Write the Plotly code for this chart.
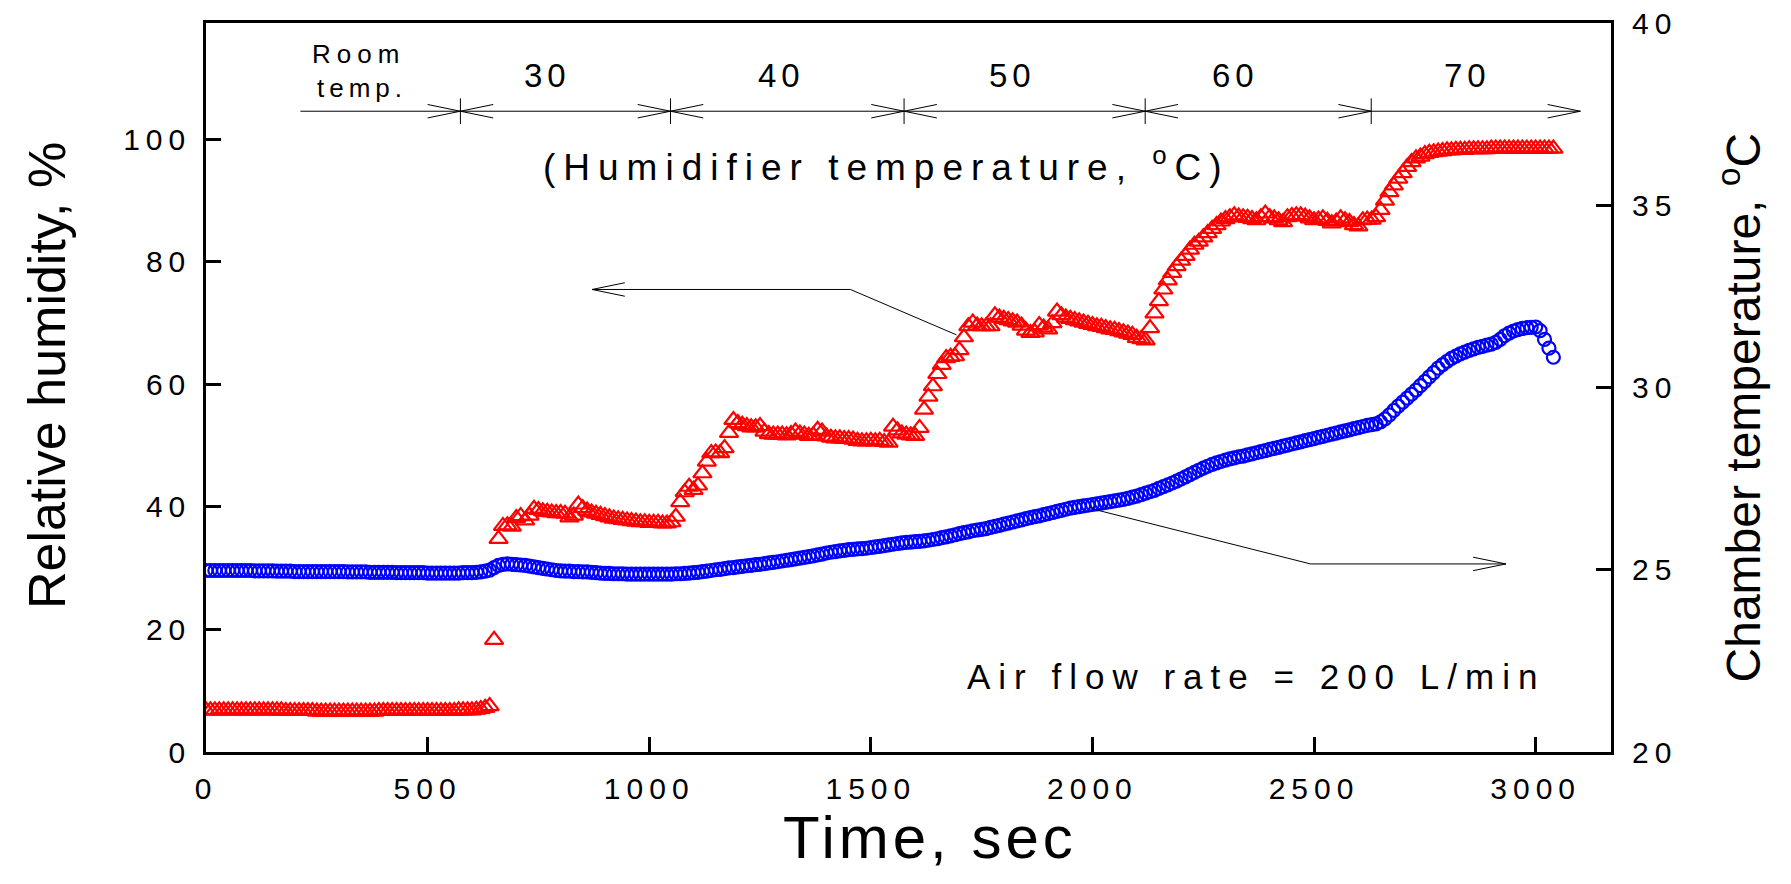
import plotly.graph_objects as go

# ---------------- data ----------------
# sampling clock of the logger (s), one reading every 10 s
time_s = list(range(0, 3050, 10))

# Relative humidity, % (red triangles, left axis)
rh_pct = [
    6.8, 6.8, 6.8, 6.8, 6.8, 6.8, 6.8, 6.8, 6.8, 6.8,
    6.8, 6.8, 6.8, 6.8, 6.8, 6.8, 6.8, 6.8, 6.7, 6.7,
    6.7, 6.7, 6.7, 6.7, 6.7, 6.6, 6.6, 6.6, 6.6, 6.6,
    6.6, 6.6, 6.6, 6.6, 6.6, 6.6, 6.6, 6.6, 6.6, 6.7,
    6.7, 6.7, 6.7, 6.7, 6.7, 6.7, 6.7, 6.7, 6.7, 6.7,
    6.7, 6.7, 6.7, 6.7, 6.7, 6.7, 6.7, 6.8, 6.8, 6.8,
    6.8, 6.9, 7.0, 7.2, 7.5, 18.3, 34.8, 36.9, 37.0, 36.8,
    38.2, 38.5, 37.8, 38.6, 39.7, 39.5, 39.3, 39.2, 39.1, 39.0,
    39.0, 38.9, 38.3, 38.6, 40.4, 39.8, 39.4, 39.1, 38.9, 38.7,
    38.5, 38.3, 38.1, 38.0, 37.9, 37.8, 37.7, 37.6, 37.5, 37.5,
    37.4, 37.4, 37.4, 37.3, 37.3, 37.5, 38.4, 40.8, 42.4, 43.3,
    42.8, 43.5, 45.5, 47.4, 48.8, 48.9, 48.8, 49.6, 52.1, 54.2,
    53.7, 53.4, 53.2, 53.0, 53.0, 53.2, 52.3, 51.9, 51.8, 51.8,
    51.8, 51.7, 51.9, 52.3, 52.0, 51.8, 51.6, 51.7, 52.6, 52.3,
    51.5, 51.3, 51.2, 51.2, 51.1, 51.1, 51.0, 50.8, 50.7, 50.7,
    50.8, 50.7, 50.8, 50.6, 50.5, 53.1, 52.5, 52.0, 51.8, 51.7,
    51.6, 52.9, 55.9, 58.0, 59.7, 61.7, 63.2, 64.3, 64.5, 64.6,
    65.6, 67.7, 69.5, 70.1, 69.6, 69.5, 69.5, 69.5, 71.3, 70.9,
    70.7, 70.5, 70.3, 70.1, 69.6, 68.8, 68.4, 68.5, 69.7, 69.3,
    69.0, 70.0, 71.9, 71.3, 70.9, 70.7, 70.5, 70.3, 70.1, 69.9,
    69.7, 69.5, 69.4, 69.2, 69.0, 68.9, 68.7, 68.5, 68.3, 68.1,
    67.6, 67.4, 67.2, 69.2, 71.6, 73.6, 75.5, 77.0, 78.2, 79.3,
    80.2, 81.0, 82.0, 82.8, 83.3, 84.0, 84.7, 85.4, 86.0, 86.6,
    87.0, 87.3, 87.6, 87.4, 87.3, 87.2, 87.0, 86.8, 87.3, 87.9,
    87.3, 87.1, 86.8, 86.5, 87.3, 87.5, 87.6, 87.6, 87.4, 87.1,
    86.8, 86.9, 87.1, 86.7, 86.3, 86.6, 87.1, 86.8, 86.5, 86.0,
    85.8, 86.8, 86.9, 86.9, 87.3, 88.5, 90.0, 91.4, 92.5, 93.6,
    94.5, 95.5, 96.3, 96.9, 97.2, 97.6, 97.8, 97.9, 98.0, 98.1,
    98.2, 98.2, 98.3, 98.3, 98.3, 98.4, 98.4, 98.4, 98.4, 98.4,
    98.5, 98.5, 98.5, 98.5, 98.5, 98.5, 98.5, 98.5, 98.5, 98.5,
    98.5, 98.5, 98.5, 98.5, 98.5,
]

# Chamber temperature, degC (blue circles, right axis)
temp_c = [
    24.98, 24.98, 24.98, 24.98, 24.98, 24.98, 24.98, 24.98, 24.98, 24.98,
    24.98, 24.97, 24.97, 24.97, 24.97, 24.97, 24.96, 24.96, 24.96, 24.96,
    24.95, 24.95, 24.95, 24.95, 24.95, 24.95, 24.95, 24.95, 24.95, 24.95,
    24.95, 24.95, 24.94, 24.94, 24.94, 24.94, 24.94, 24.93, 24.93, 24.93,
    24.93, 24.93, 24.93, 24.92, 24.92, 24.92, 24.92, 24.92, 24.92, 24.92,
    24.91, 24.91, 24.91, 24.91, 24.91, 24.91, 24.91, 24.91, 24.92, 24.92,
    24.92, 24.93, 24.94, 24.96, 24.99, 25.06, 25.12, 25.15, 25.16, 25.15,
    25.14, 25.13, 25.12, 25.10, 25.08, 25.06, 25.04, 25.02, 25.00, 24.98,
    24.97, 24.96, 24.96, 24.95, 24.95, 24.94, 24.94, 24.93, 24.92, 24.91,
    24.90, 24.90, 24.89, 24.89, 24.89, 24.88, 24.88, 24.88, 24.88, 24.88,
    24.88, 24.88, 24.88, 24.88, 24.88, 24.88, 24.89, 24.89, 24.90, 24.91,
    24.92, 24.93, 24.95, 24.96, 24.98, 25.00, 25.01, 25.03, 25.05, 25.06,
    25.08, 25.09, 25.11, 25.12, 25.14, 25.15, 25.17, 25.19, 25.20, 25.22,
    25.24, 25.26, 25.28, 25.30, 25.32, 25.34, 25.36, 25.38, 25.41, 25.43,
    25.46, 25.48, 25.50, 25.52, 25.53, 25.55, 25.56, 25.57, 25.58, 25.59,
    25.61, 25.63, 25.64, 25.66, 25.68, 25.70, 25.72, 25.74, 25.75, 25.76,
    25.77, 25.78, 25.79, 25.81, 25.83, 25.85, 25.88, 25.90, 25.93, 25.96,
    25.99, 26.02, 26.04, 26.07, 26.09, 26.11, 26.13, 26.16, 26.19, 26.22,
    26.25, 26.28, 26.31, 26.34, 26.37, 26.40, 26.43, 26.46, 26.48, 26.51,
    26.54, 26.57, 26.60, 26.63, 26.66, 26.69, 26.71, 26.73, 26.75, 26.77,
    26.79, 26.81, 26.83, 26.85, 26.87, 26.89, 26.91, 26.93, 26.96, 26.99,
    27.02, 27.06, 27.10, 27.14, 27.18, 27.23, 27.28, 27.33, 27.38, 27.43,
    27.49, 27.55, 27.61, 27.67, 27.73, 27.79, 27.84, 27.89, 27.93, 27.97,
    28.01, 28.04, 28.07, 28.10, 28.12, 28.15, 28.18, 28.21, 28.24, 28.27,
    28.30, 28.33, 28.36, 28.39, 28.42, 28.45, 28.48, 28.51, 28.54, 28.57,
    28.60, 28.63, 28.66, 28.69, 28.72, 28.75, 28.78, 28.81, 28.84, 28.87,
    28.90, 28.93, 28.96, 28.98, 29.00, 29.06, 29.14, 29.25, 29.37, 29.49,
    29.60, 29.71, 29.82, 29.93, 30.05, 30.17, 30.29, 30.41, 30.53, 30.63,
    30.72, 30.80, 30.86, 30.92, 30.97, 31.02, 31.06, 31.10, 31.13, 31.16,
    31.19, 31.24, 31.32, 31.42, 31.49, 31.55, 31.59, 31.62, 31.64, 31.65,
    31.66, 31.56, 31.32, 31.08, 30.83,
]

# axis ticks
x_ticks = [0, 500, 1000, 1500, 2000, 2500, 3000]
y_ticks = [0, 20, 40, 60, 80, 100]
y2_ticks = [20, 25, 30, 35, 40]

# humidifier-temperature phases (top bracket)
phase_bounds = [574, 1048, 1575, 2119, 2629]
phase_labels = ["30", "40", "50", "60", "70"]
phase_label_x = [770, 1299, 1820, 2323, 2846]
bracket_start, bracket_end, bracket_y = 213, 3101, 104.6

# pointer lines (x in s, y in % RH)
rh_pointer = [(1693, 68.1), (1454, 75.5), (871, 75.5)]
t_pointer = [(1999, 39.7), (2492, 30.7), (2933, 30.7)]

FONT = "Liberation Sans, Arial, Helvetica, sans-serif"


def spaced(text, px):
    return f'<span style="letter-spacing:{px}px">{text}</span>'


fig = go.Figure()
fig.add_trace(go.Scatter(
    x=time_s, y=rh_pct, mode="markers", name="Relative humidity",
    marker=dict(symbol="triangle-up-open", size=16, color="#ff0000",
                line=dict(width=2.2, color="#ff0000")),
))
fig.add_trace(go.Scatter(
    x=time_s, y=temp_c, mode="markers", name="Chamber temperature", yaxis="y2",
    marker=dict(symbol="circle-open", size=13, color="#0000ff",
                line=dict(width=2.2, color="#0000ff")),
))

# ---------- bracket & arrows as shapes ----------
AL, AH = 74, 1.1      # arrowhead length (s) / half-height (% RH)
VT = 2.1              # half-height of divider ticks
shapes = []
line_style = dict(color="black", width=1)


def seg(path):
    shapes.append(dict(type="path", path=path, xref="x", yref="y",
                       line=line_style))


def head_right(x, y):
    seg(f"M{x-AL},{y+AH} L{x},{y} L{x-AL},{y-AH}")


def head_left(x, y):
    seg(f"M{x+AL},{y+AH} L{x},{y} L{x+AL},{y-AH}")


seg(f"M{bracket_start},{bracket_y} L{bracket_end},{bracket_y}")
head_right(bracket_end, bracket_y)
for i, b in enumerate(phase_bounds):
    seg(f"M{b},{bracket_y+VT} L{b},{bracket_y-VT}")
    head_right(b, bracket_y)
    if i < len(phase_bounds) - 1:
        head_left(b, bracket_y)

seg("M" + " L".join(f"{x},{y}" for x, y in rh_pointer))
head_left(*rh_pointer[-1])
seg("M" + " L".join(f"{x},{y}" for x, y in t_pointer))
head_right(*t_pointer[-1])

# ---------- text annotations ----------
ann = []


def add_text(x, y, text, size, xref="x", yref="y", angle=0,
             xanchor="center", xshift=0):
    ann.append(dict(x=x, y=y, xref=xref, yref=yref, text=text,
                    showarrow=False, xanchor=xanchor, yanchor="middle",
                    xshift=xshift, textangle=angle,
                    font=dict(size=size, color="black", family=FONT)))


add_text(345, 113.9, spaced("Room", 6), 26)
add_text(352, 108.4, spaced("temp.", 5), 26)
for lx, lab in zip(phase_label_x, phase_labels):
    add_text(lx, 110.4, spaced(lab, 5), 33)
add_text(1536, 95.9, spaced("(Humidifier temperature, <sup>o</sup>C)", 8), 37)
add_text(2368, 12.3, spaced("Air flow rate = 200 L/min", 8), 35)
# right-axis tick labels
for v in y2_ticks:
    add_text(1.0, v, spaced(str(v), 6), 30, "paper", "y2",
             xanchor="left", xshift=19)
# axis titles
add_text(-0.113, 0.516, "Relative humidity, %", 52, "paper", "paper", -90)
add_text(1.092, 0.473, "Chamber temperature, <sup>o</sup>C", 48,
         "paper", "paper", -90)
add_text(0.5155, -0.1166, spaced("Time, sec", 4), 60, "paper", "paper")

axis_common = dict(showgrid=False, zeroline=False, showline=True,
                   linecolor="black", linewidth=2.5, ticks="inside",
                   ticklen=15, tickwidth=2.5, tickcolor="black",
                   tickfont=dict(size=30, color="black", family=FONT))

fig.update_layout(
    width=1791, height=884,
    margin=dict(l=206, r=180, t=23, b=132),
    paper_bgcolor="white", plot_bgcolor="white",
    showlegend=False,
    font=dict(family=FONT, color="black"),
    xaxis=dict(range=[0, 3170], tickvals=x_ticks,
               ticktext=[spaced(str(v), 6) for v in x_ticks],
               mirror=True, ticklabelstandoff=8, **axis_common),
    yaxis=dict(range=[0, 119], tickvals=y_ticks,
               ticktext=[spaced(str(v), 6) for v in y_ticks],
               ticklabelstandoff=6, **axis_common),
    yaxis2=dict(range=[20, 40], overlaying="y", side="right",
                tickvals=y2_ticks, showticklabels=False, **axis_common),
    shapes=shapes,
    annotations=ann,
)

fig.write_html("out.html")
